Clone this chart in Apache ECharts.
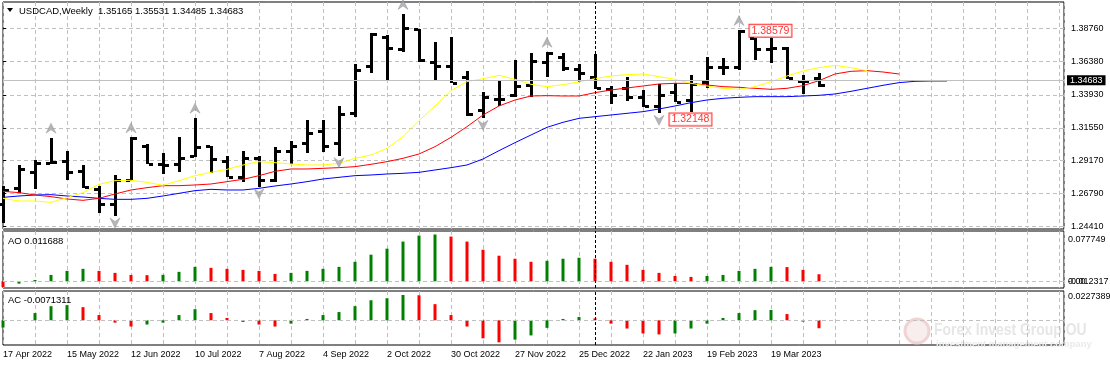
<!DOCTYPE html>
<html><head><meta charset="utf-8">
<script src="https://cdn.jsdelivr.net/npm/echarts@6/dist/echarts.min.js"></script>
<style>html,body{margin:0;padding:0;background:#fff}#c{width:1110px;height:366px}</style>
</head><body><div id="c"></div>
<script>
// ---------- DATA ----------
const symbolName = 'USDCAD,Weekly';
const dateLabels = ['17 Apr 2022','15 May 2022','12 Jun 2022','10 Jul 2022','7 Aug 2022','4 Sep 2022','2 Oct 2022','30 Oct 2022','27 Nov 2022','25 Dec 2022','22 Jan 2023','19 Feb 2023','19 Mar 2023'];
const priceTickLabels = ['1.24410','1.26790','1.29170','1.31550','1.33930','1.36380','1.38760'];
const barOpen = [1.26000,1.27213,1.28373,1.28976,1.29170,1.28421,1.27141,1.26005,1.27769,1.30257,1.28904,1.28904,1.29532,1.30208,1.29145,1.28010,1.29339,1.27744,1.29894,1.30425,1.31319,1.30474,1.32648,1.36030,1.38108,1.37262,1.38687,1.36296,1.36054,1.35258,1.32817,1.33639,1.33929,1.34678,1.36344,1.36683,1.35837,1.35258,1.34340,1.34412,1.33760,1.33131,1.34122,1.33566,1.34848,1.35982,1.35982,1.38035,1.37262,1.37311,1.34944,1.35165];
const barHigh = [1.27334,1.28856,1.29218,1.30836,1.29870,1.28856,1.27334,1.28106,1.30860,1.30353,1.29701,1.30860,1.32286,1.30257,1.29508,1.29870,1.29508,1.30160,1.30619,1.32117,1.32117,1.33131,1.36175,1.38398,1.38277,1.39799,1.38712,1.37745,1.38108,1.35692,1.34122,1.34944,1.36441,1.37000,1.37060,1.36990,1.36175,1.36900,1.34581,1.35210,1.34292,1.34726,1.34824,1.35354,1.36658,1.36586,1.38639,1.38084,1.38035,1.37431,1.35354,1.35531];
const barLow = [1.24628,1.26851,1.27093,1.28950,1.27769,1.27165,1.25401,1.25160,1.27720,1.28904,1.28179,1.28373,1.29460,1.28252,1.27962,1.27648,1.27286,1.27648,1.28904,1.29701,1.29822,1.29532,1.32310,1.35548,1.34969,1.37021,1.36344,1.34969,1.34774,1.32431,1.32237,1.33155,1.33808,1.33808,1.35210,1.35692,1.34848,1.34340,1.33252,1.33518,1.33035,1.32600,1.33398,1.32720,1.34412,1.35354,1.35765,1.36465,1.36272,1.35065,1.34025,1.34485];
const barClose = [1.27044,1.28542,1.29024,1.29049,1.28373,1.27238,1.26005,1.27769,1.30800,1.28928,1.28880,1.29339,1.30184,1.29266,1.28010,1.29339,1.27769,1.29894,1.30257,1.31199,1.30257,1.32551,1.35741,1.38325,1.37311,1.38760,1.36465,1.36054,1.34800,1.32527,1.33784,1.33660,1.34581,1.36392,1.36949,1.35886,1.35524,1.34436,1.33929,1.33760,1.33131,1.33953,1.33446,1.34702,1.35958,1.35960,1.38567,1.37262,1.37311,1.35162,1.34960,1.34683];
// Alligator (shifted forward, so longer than the price series)
const lipsYellow = [1.26439,1.26246,1.26246,1.26150,1.26488,1.26850,1.27454,1.27720,1.27744,1.27599,1.27382,1.27720,1.28082,1.28324,1.28541,1.28856,1.29097,1.29024,1.28928,1.28856,1.28856,1.28976,1.29339,1.29580,1.30064,1.30909,1.32069,1.33132,1.34243,1.34895,1.35113,1.35354,1.35064,1.34702,1.34533,1.34678,1.34871,1.35113,1.35306,1.35403,1.35451,1.35258,1.35064,1.34774,1.34581,1.34412,1.34340,1.34533,1.34895,1.35306,1.35668,1.35910,1.36078,1.35910,1.35692];
const teethRed = [1.26947,1.26851,1.26682,1.26561,1.26392,1.26295,1.26439,1.26755,1.27044,1.27213,1.27358,1.27358,1.27406,1.27479,1.27648,1.27817,1.28082,1.28397,1.28566,1.28566,1.28614,1.28663,1.28735,1.28904,1.29097,1.29339,1.29653,1.30184,1.30861,1.31633,1.32479,1.33131,1.33566,1.33856,1.33880,1.33856,1.33856,1.34098,1.34292,1.34436,1.34581,1.34726,1.34774,1.34774,1.34653,1.34533,1.34484,1.34412,1.34340,1.34412,1.34605,1.34968,1.35451,1.35644,1.35692,1.35596,1.35451];
const jawBlue = [1.26512,1.26609,1.26682,1.26706,1.26609,1.26537,1.26439,1.26367,1.26367,1.26439,1.26609,1.26802,1.26996,1.27093,1.27044,1.27044,1.27165,1.27334,1.27479,1.27648,1.27841,1.27962,1.28082,1.28131,1.28203,1.28252,1.28324,1.28493,1.28662,1.28856,1.29291,1.29894,1.30474,1.31030,1.31585,1.31948,1.32237,1.32358,1.32479,1.32600,1.32720,1.32914,1.33131,1.33373,1.33566,1.33687,1.33759,1.33808,1.33808,1.33808,1.33856,1.33905,1.34001,1.34195,1.34412,1.34630,1.34823,1.34920,1.34944,1.34944];
const aoValues = [-0.0095,-0.0039,0.0022,0.0106,0.0173,0.0207,0.0173,0.0140,0.0106,0.0102,0.0108,0.0157,0.0240,0.0224,0.0207,0.0190,0.0173,0.0123,0.0140,0.0173,0.0207,0.0240,0.0324,0.0442,0.0542,0.0660,0.0760,0.077749,0.0743,0.0660,0.0525,0.0425,0.0375,0.0324,0.0341,0.0375,0.0391,0.0375,0.0324,0.0274,0.0190,0.0140,0.0089,0.0073,0.0089,0.0106,0.0173,0.0207,0.0240,0.0236,0.0190,0.011688];
const acValues = [-0.0065,0.0003,0.0065,0.0127,0.0136,0.0118,0.0047,-0.0021,-0.0056,-0.0038,-0.0021,0.0047,0.0100,0.0065,0.0021,-0.0015,-0.0038,-0.0056,-0.0030,0.0012,0.0047,0.0074,0.0127,0.0180,0.0198,0.0227389,0.0225,0.0145,0.0047,-0.0056,-0.0162,-0.0198,-0.0174,-0.0136,-0.0068,0.0012,0.0030,0.0018,-0.0030,-0.0074,-0.0118,-0.0127,-0.0118,-0.0074,-0.0030,0.0021,0.0065,0.0091,0.0093,0.0056,-0.0012,-0.0071311];
const aoFirstRising = false;
const acFirstRising = true;
const fractalUpIdx = [3,8,12,25,34,46];
const fractalDownIdx = [7,16,21,30,41];
const extremeLabelIdx = [46,41];
const extremeLabelPrice = [1.38579,1.32148];
const aoScaleLabels = ['0.077749','0.00','-0.012317'];
const acScaleLabels = ['0.0227389'];
const separatorIdx = 37;

// ---------- CHART ----------
const chart = echarts.init(document.getElementById('c'), null, {renderer:'canvas', width:1110, height:366});
const N = barOpen.length, last = N - 1;
const XMAX = 66.3125;
const FONT = 'Liberation Sans';
const gridColor = '#c0c0c0';
const dashGrid = [4,3];
const pairs = a => a.map((v,i)=>[i,v]);
const priceTickValues = priceTickLabels.map(Number);
const UP = '#008000', DN = '#ff0000';

function xAxisFor(gi, labels){
  return {
    type:'value', gridIndex:gi, min:0, max:XMAX, interval:2,
    axisLine:{show:false}, axisTick:{show:false},
    splitLine:{show:true, lineStyle:{color:gridColor, type:dashGrid, width:1}},
    axisLabel: labels ? {
      show:true, align:'left', margin:5, fontSize:9, color:'#000', fontFamily:FONT,
      formatter: v => { const k = v/4; return (Number.isInteger(k) && k < dateLabels.length) ? dateLabels[k] : ''; }
    } : {show:false}
  };
}
function hiddenY(gi, min, max){
  return {type:'value', gridIndex:gi, min, max, axisLine:{show:false}, axisTick:{show:false}, axisLabel:{show:false}, splitLine:{show:false}};
}
const sepLine = {silent:true, symbol:'none', label:{show:false},
  lineStyle:{color:'#000', type:[3,2], width:1}, data:[{xAxis:separatorIdx}]};
const zeroLine = {silent:true, symbol:'none', label:{show:false},
  lineStyle:{color:gridColor, type:dashGrid, width:1}, data:[{yAxis:0}]};

function colorFn(vals, firstUp){
  return p => {
    const i = p.dataIndex;
    const up = i === 0 ? firstUp : vals[i] > vals[i-1];
    return up ? UP : DN;
  };
}

const option = {
  animation:false,
  backgroundColor:'#fff',
  textStyle:{fontFamily:FONT},
  grid:[
    {left:3, top:2, width:1061, height:227, show:true, borderColor:'#000', borderWidth:1, backgroundColor:'#fff'},
    {left:3, top:231, width:1061, height:57, show:true, borderColor:'#000', borderWidth:1, backgroundColor:'#fff'},
    {left:3, top:291, width:1061, height:54, show:true, borderColor:'#000', borderWidth:1, backgroundColor:'#fff'}
  ],
  xAxis:[xAxisFor(0,false), xAxisFor(1,false), xAxisFor(2,true)],
  yAxis:[
    {type:'value', gridIndex:0, position:'right', min:1.24217, max:1.40668,
     axisLine:{show:false},
     axisTick:{show:true, length:3, lineStyle:{color:'#000'}, customValues:priceTickValues},
     axisLabel:{show:true, customValues:priceTickValues, margin:7, fontSize:9, color:'#000', fontFamily:FONT,
       formatter: v => { let b=0; priceTickValues.forEach((t,k)=>{ if(Math.abs(t-v)<Math.abs(priceTickValues[b]-v)) b=k; }); return priceTickLabels[b]; }},
     splitLine:{show:true, lineStyle:{color:gridColor, type:dashGrid, width:1}}},
    hiddenY(1, -0.01113, 0.08356),
    hiddenY(2, -0.0222, 0.02633)
  ],
  series:[
    { // current price line
      type:'line', xAxisIndex:0, yAxisIndex:0, data:[], z:1, silent:true,
      markLine:{silent:true, symbol:'none',
        lineStyle:{color:'#c0c0c0', type:'solid', width:1},
        label:{show:true, position:'end', distance:3, formatter: barClose[last].toFixed(5),
          color:'#fff', backgroundColor:'#000', padding:[1,3,0,3], fontSize:9, fontFamily:FONT},
        data:[{yAxis:barClose[last]}]}
    },
    { // OHLC bars
      type:'custom', xAxisIndex:0, yAxisIndex:0, z:3, silent:true,
      data: barOpen.map((o,i)=>[i,o,barHigh[i],barLow[i],barClose[i]]),
      encode:{x:0, y:[1,2,3,4]},
      renderItem:(params, api)=>{
        const i = api.value(0);
        const h = api.coord([i, api.value(2)]);
        const l = api.coord([i, api.value(3)]);
        const o = api.coord([i, api.value(1)]);
        const c = api.coord([i, api.value(4)]);
        const x = Math.round(h[0]);
        return {type:'group', children:[
          {type:'rect', shape:{x:x-1, y:Math.round(h[1]), width:3, height:Math.max(2,Math.round(l[1])-Math.round(h[1]))}, style:{fill:'#000'}},
          {type:'rect', shape:{x:x-5, y:Math.round(o[1])-1, width:4, height:3}, style:{fill:'#000'}},
          {type:'rect', shape:{x:x+2, y:Math.round(c[1])-1, width:4, height:3}, style:{fill:'#000'}}
        ]};
      }
    },
    {type:'line', name:'Jaw', xAxisIndex:0, yAxisIndex:0, data:pairs(jawBlue), showSymbol:false, z:4,
     lineStyle:{color:'#0000ff', width:1}, silent:true, markLine:sepLine},
    {type:'line', name:'Teeth', xAxisIndex:0, yAxisIndex:0, data:pairs(teethRed), showSymbol:false, z:4,
     lineStyle:{color:'#ff0000', width:1}, silent:true},
    {type:'line', name:'Lips', xAxisIndex:0, yAxisIndex:0, data:pairs(lipsYellow), showSymbol:false, z:4,
     lineStyle:{color:'#ffff00', width:1}, silent:true},
    {type:'scatter', xAxisIndex:0, yAxisIndex:0, z:5, silent:true,
     data: fractalUpIdx.map(i=>[i, barHigh[i]]),
     symbol:'path://M5,0 L10,10 L5,6.5 L0,10 Z', symbolSize:[10,10], symbolOffset:[0,-9.5],
     itemStyle:{color:'#a4a4a4', borderColor:'#8a8a9a', borderWidth:0.5}},
    {type:'scatter', xAxisIndex:0, yAxisIndex:0, z:5, silent:true,
     data: fractalDownIdx.map(i=>[i, barLow[i]]),
     symbol:'path://M0,0 L5,3.5 L10,0 L5,10 Z', symbolSize:[10,10], symbolOffset:[0,7],
     itemStyle:{color:'#a4a4a4', borderColor:'#8a8a9a', borderWidth:0.5}},
    {type:'scatter', xAxisIndex:0, yAxisIndex:0, z:6, silent:true,
     data: extremeLabelIdx.map((i,k)=>[i, extremeLabelPrice[k]]),
     symbolSize:1, itemStyle:{color:'rgba(0,0,0,0)'},
     label:{show:true, position:'right', distance:10, formatter: p => p.value[1].toFixed(5),
       color:'#ff0000', fontSize:10.5, fontFamily:FONT, backgroundColor:'#fff', borderColor:'#ff0000', borderWidth:1, padding:[1,2,0,2]}},
    {type:'bar', xAxisIndex:1, yAxisIndex:1, data:pairs(aoValues), barWidth:3, silent:true,
     itemStyle:{color:colorFn(aoValues, aoFirstRising)}, markLine:{...sepLine}, z:3},
    {type:'line', xAxisIndex:1, yAxisIndex:1, data:[], silent:true, markLine:zeroLine, z:1},
    {type:'bar', xAxisIndex:2, yAxisIndex:2, data:pairs(acValues), barWidth:3, silent:true,
     itemStyle:{color:colorFn(acValues, acFirstRising)}, markLine:{...sepLine}, z:3},
    {type:'line', xAxisIndex:2, yAxisIndex:2, data:[], silent:true, markLine:zeroLine, z:1}
  ],
  graphic:[
    {type:'polygon', shape:{points:[[7,8],[13,8],[10,12]]}, style:{fill:'#000'}, z:10},
    {type:'text', x:19, y:11, z:10, style:{text: symbolName + '  ' + [barOpen[last],barHigh[last],barLow[last],barClose[last]].map(v=>v.toFixed(5)).join(' '),
      font:'9.5px "Liberation Sans"', fill:'#000', textVerticalAlign:'middle'}},
    {type:'text', x:8, y:241, z:10, style:{text:'AO ' + aoValues[last].toFixed(6), font:'9.5px "Liberation Sans"', fill:'#000', textVerticalAlign:'middle'}},
    {type:'text', x:8, y:300.5, z:10, style:{text:'AC ' + acValues[last].toFixed(7), font:'9.5px "Liberation Sans"', fill:'#000', textVerticalAlign:'middle'}},
    {type:'text', x:1068, y:239.5, z:10, style:{text:aoScaleLabels[0], font:'9px "Liberation Sans"', fill:'#000', textVerticalAlign:'middle'}},
    {type:'text', x:1068, y:282, z:10, style:{text:aoScaleLabels[1], font:'9px "Liberation Sans"', fill:'#000', textVerticalAlign:'middle'}},
    {type:'text', x:1068, y:282, z:10, style:{text:aoScaleLabels[2], font:'9px "Liberation Sans"', fill:'#000', textVerticalAlign:'middle'}},
    {type:'text', x:1068, y:297, z:10, style:{text:acScaleLabels[0], font:'9px "Liberation Sans"', fill:'#000', textVerticalAlign:'middle'}},
    // watermark
    {type:'circle', shape:{cx:917, cy:331, r:12}, style:{fill:'#f8eeee', stroke:'#f0d4d4', lineWidth:3}, z:0, silent:true},
    {type:'text', x:934, y:330, scaleX:0.82, z:0, silent:true, style:{text:'Forex Invest Group OU', font:'bold 17px "Liberation Sans"', fill:'#e6e6e6', textVerticalAlign:'middle'}},
    {type:'text', x:936, y:344, z:0, silent:true, style:{text:'investment management company', font:'bold 9.5px "Liberation Sans"', fill:'#eaeaea', textVerticalAlign:'middle'}}
  ]
};
chart.setOption(option);
</script>
</body></html>
